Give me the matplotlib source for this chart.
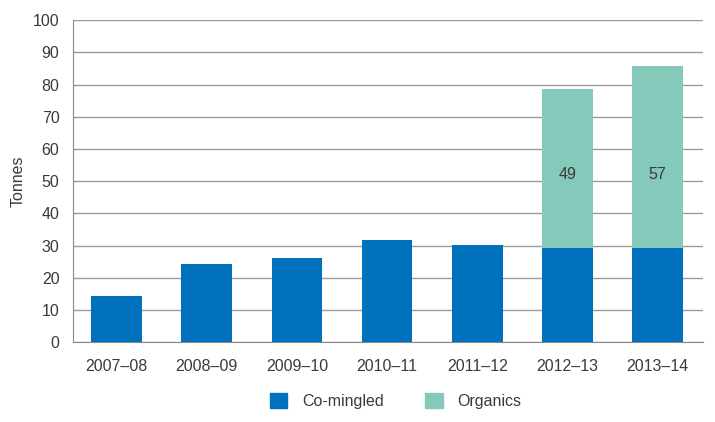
import matplotlib.pyplot as plt
from matplotlib.patches import Patch

years = ["2007–08", "2008–09", "2009–10", "2010–11", "2011–12", "2012–13", "2013–14"]
comingled = [14.4, 24.2, 26.3, 31.8, 30.2, 29.2, 29.2]
organics = [0, 0, 0, 0, 0, 49.4, 56.7]

blue = "#0071bc"
green = "#85c9ba"
txt = "#3a3a3a"

plt.rcParams['font.family'] = ['Liberation Sans', 'DejaVu Sans']

fig = plt.figure(figsize=(7.15, 4.22), dpi=100)
ax = fig.add_axes([0.1025, 0.1889, 0.8805, 0.7630])

x = range(len(years))
ax.bar(x, comingled, width=0.562, color=blue, zorder=3)
ax.bar(x, organics, width=0.562, bottom=comingled, color=green, zorder=3)

for i, v in enumerate(organics):
    if v > 0:
        ax.text(i, 52, f"{v:.0f}", ha='center', va='center', fontsize=11.5, color=txt, zorder=4)

ax.set_xlim(-0.481, len(years) - 0.498)
ax.set_ylim(0, 100)
ax.set_yticks(range(0, 101, 10))
ax.set_xticks(list(x))
ax.set_xticklabels(years)
ax.grid(axis='y', color='#9a9a9a', linewidth=1, zorder=0)
for s in ['top', 'right']:
    ax.spines[s].set_visible(False)
ax.spines['left'].set_color('#8a8a8a')
ax.spines['bottom'].set_color('#8a8a8a')
ax.tick_params(axis='y', length=0, pad=10, labelsize=11.5, labelcolor=txt)
ax.tick_params(axis='x', length=0, pad=12, labelsize=11.5, labelcolor=txt)
ax.set_ylabel("Tonnes", fontsize=11.5, color=txt, labelpad=5)

handles = [Patch(color=blue, label="Co-mingled"), Patch(color=green, label="Organics")]
fig.legend(handles=handles, loc='center', bbox_to_anchor=(0.553, 0.05), ncol=2,
           frameon=False, fontsize=11.5, handlelength=1.1, handleheight=1.1,
           columnspacing=2.6, handletextpad=0.9, labelcolor=txt)

fig.savefig("out.png", dpi=100)
